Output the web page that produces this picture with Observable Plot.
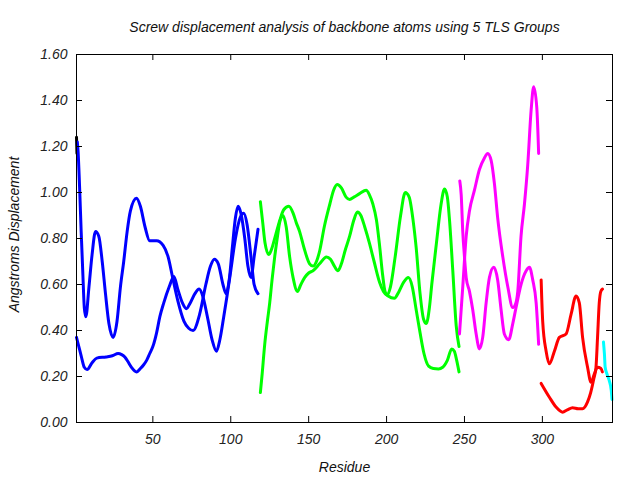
<!DOCTYPE html>
<html><head><meta charset="utf-8">
<script src="https://cdn.jsdelivr.net/npm/d3@7"></script>
<script src="https://cdn.jsdelivr.net/npm/@observablehq/plot@0.6"></script>
<style>body{margin:0;background:#fff;}</style>
</head><body><div id="chart"></div>
<script>
const title = "Screw displacement analysis of backbone atoms using 5 TLS Groups";
const xLabel = "Residue";
const yLabel = "Angstroms Displacement";
const xTicks = [50, 100, 150, 200, 250, 300];
const yTicks = [0, 0.2, 0.4, 0.6, 0.8, 1.0, 1.2, 1.4, 1.6];

// group colours
const colors = {black: "#000000", blue: "#0000ff", green: "#00ff00", magenta: "#ff00ff", red: "#ff0000", cyan: "#00ffff"};

// [residue, displacement]
const black1 = [[1,1.24],[1.3,1.17]];
const blueA = [[1.5,1.22],[2,1.18],[3,1.02],[4,0.83],[5,0.66],[6,0.50],[7,0.46],[9,0.59],[11,0.73],[13.2,0.83],[15.3,0.81],[17.5,0.70],[19.6,0.56],[21.8,0.43],[24.5,0.37],[27,0.44],[29.2,0.59],[31.3,0.70],[33.5,0.83],[35.6,0.92],[39.5,0.975],[42,0.94],[45,0.85],[48,0.79],[52.4,0.79],[56.6,0.77],[59.8,0.72],[62.7,0.63],[66,0.53],[70,0.44],[73,0.41],[75.8,0.40],[80,0.47],[84,0.60],[87,0.68],[89.5,0.71],[92,0.69],[95,0.60],[97,0.56],[99,0.62],[101,0.76],[103,0.89],[104.7,0.94],[106.5,0.91],[109,0.80],[111,0.68],[113,0.63],[115,0.72],[117.5,0.84]];
const blueB = [[1,0.37],[2.5,0.33],[4,0.29],[6,0.24],[7.8,0.23],[11,0.26],[14,0.28],[20,0.285],[24,0.29],[27.7,0.30],[30,0.295],[32,0.285],[34,0.265],[36.3,0.24],[39.5,0.22],[42,0.235],[44,0.25],[46,0.27],[48,0.30],[50,0.33],[52.4,0.39],[54.5,0.46],[57,0.52],[60.5,0.59],[63.5,0.635],[66,0.58],[69,0.52],[71.5,0.495],[74,0.52],[77,0.56],[79.7,0.58],[82,0.55],[85,0.46],[88,0.36],[90.8,0.31],[93,0.36],[95.5,0.46],[97.6,0.55],[100,0.66],[103,0.80],[106,0.89],[108.3,0.91],[110.5,0.86],[113,0.72],[115,0.60],[117.5,0.56]];
const greenA = [[119,0.96],[120.5,0.87],[122,0.78],[124.4,0.73],[126.5,0.76],[129,0.82],[131.5,0.88],[134,0.925],[137.3,0.94],[140,0.91],[142,0.87],[144.2,0.83],[147,0.76],[150.6,0.69],[152.8,0.68],[155,0.70],[157.2,0.75],[160,0.85],[163.6,0.95],[166,1.01],[168.3,1.035],[171,1.02],[174,0.98],[176.3,0.97],[179,0.98],[182.7,0.995],[186.9,1.01],[189,0.99],[191.2,0.95],[193.5,0.88],[195.5,0.77],[197.5,0.64],[199,0.57],[200.5,0.555],[202.5,0.59],[205.5,0.72],[209,0.90],[212,1.00],[214.5,0.98],[217,0.88],[219,0.76],[221.5,0.56],[223.7,0.45],[225.5,0.43],[227.5,0.50],[229,0.60],[232,0.78],[235,0.95],[237.2,1.015],[239,0.98],[240.4,0.88],[242.5,0.66],[244.7,0.42],[246.5,0.33]];
const greenB = [[119,0.13],[120,0.20],[121.8,0.34],[123.5,0.44],[125,0.52],[126.5,0.62],[128.2,0.72],[130,0.81],[131.4,0.87],[133.5,0.90],[135.6,0.85],[137.8,0.72],[140,0.63],[142.8,0.57],[145,0.60],[147.4,0.63],[150,0.65],[152.8,0.66],[157,0.69],[161.4,0.72],[164,0.71],[166.5,0.68],[168.8,0.66],[171,0.69],[173.5,0.75],[176.3,0.81],[179,0.88],[181.3,0.915],[183.5,0.90],[186,0.85],[189,0.78],[192,0.70],[195.5,0.61],[198,0.57],[201,0.55],[205,0.54],[208,0.57],[211,0.61],[214,0.63],[216.5,0.59],[219,0.49],[221.5,0.39],[224,0.30],[227,0.245],[230,0.235],[233.3,0.233],[236,0.24],[239,0.27],[241.8,0.32],[243.5,0.31],[245,0.27],[246.5,0.22]];
const magentaA = [[247,1.05],[247.9,0.99],[248.9,0.83],[250,0.72],[251.1,0.63],[253.2,0.57],[255.3,0.49],[257.5,0.385],[259.6,0.32],[261.7,0.37],[263.9,0.52],[266,0.63],[268.8,0.675],[271.3,0.62],[273.5,0.49],[275.6,0.385],[278.4,0.36],[281,0.43],[283.1,0.50],[286.3,0.60],[289.6,0.66],[291.7,0.675],[293.8,0.62],[296,0.52],[297.6,0.34]];
const magentaB = [[246.8,0.385],[248.9,0.59],[251.1,0.81],[253.2,0.92],[256.4,1.01],[259.6,1.10],[262.8,1.15],[264.9,1.17],[267.1,1.14],[269.2,1.04],[271.3,0.89],[274.6,0.72],[277.8,0.59],[281,0.50],[283,0.52],[284.2,0.57],[286.3,0.81],[288.5,0.95],[290.6,1.12],[292.8,1.36],[294.4,1.46],[296.4,1.37],[297.6,1.17]];
const redA = [[299.2,0.62],[300.2,0.44],[302.4,0.31],[304.5,0.255],[307.7,0.31],[310.9,0.37],[315.2,0.385],[318.4,0.47],[321.6,0.55],[323.7,0.52],[325.8,0.37],[329,0.24],[331.2,0.175],[333.3,0.21],[335.4,0.24],[337.6,0.235],[338.5,0.22]];
const redB = [[299.2,0.17],[304.5,0.11],[308.8,0.067],[313,0.045],[316,0.055],[319.4,0.064],[323,0.06],[325.8,0.06],[329,0.09],[331,0.13],[333,0.19],[334.4,0.24],[335.4,0.37],[336.5,0.52],[337.5,0.57],[338.6,0.58]];
const cyan1 = [[339.2,0.35],[339.8,0.30],[340.3,0.24],[341.5,0.21],[343,0.18],[344.2,0.14],[344.7,0.10]];

const series = [
  [black1, colors.black], [blueA, colors.blue], [blueB, colors.blue],
  [greenA, colors.green], [greenB, colors.green],
  [magentaA, colors.magenta], [magentaB, colors.magenta],
  [redA, colors.red], [redB, colors.red], [cyan1, colors.cyan]
];

const W = 640, H = 480, mL = 76, mR = 28, mT = 54, mB = 58;
const pw = W - mL - mR, ph = H - mT - mB, tk = 6;

const chart = Plot.plot({
  width: W, height: H,
  marginLeft: mL, marginRight: mR, marginTop: mT, marginBottom: mB,
  style: "font-family: 'Liberation Sans', sans-serif; font-size: 14px; font-style: italic; background: white; color: black;",
  x: {domain: [1, 345]},
  y: {domain: [0, 1.6]},
  marks: [
    ...series.map(([d, c]) => Plot.line(d, {x: d => d[0], y: d => d[1], stroke: c, strokeWidth: 3, curve: "monotone-x"})),
    Plot.gridX(xTicks, {stroke: "black", strokeOpacity: 1, insetTop: ph - tk}),
    Plot.gridX(xTicks, {stroke: "black", strokeOpacity: 1, insetBottom: ph - tk}),
    Plot.gridY(yTicks, {stroke: "black", strokeOpacity: 1, insetRight: pw - tk}),
    Plot.gridY(yTicks, {stroke: "black", strokeOpacity: 1, insetLeft: pw - tk}),
    Plot.frame({stroke: "black"}),
    Plot.axisX({ticks: xTicks, tickSize: 0, tickPadding: 12, label: null, fill: "#222"}),
    Plot.axisY({ticks: yTicks, tickSize: 0, tickPadding: 9, tickFormat: d3.format(".2f"), label: null, fill: "#222"}),
    Plot.text([title], {frameAnchor: "top", dy: -27, lineAnchor: "middle", textAnchor: "middle", fill: "#111"}),
    Plot.text([xLabel], {frameAnchor: "bottom", dy: 45, lineAnchor: "middle", textAnchor: "middle", fill: "#111"}),
    Plot.text([yLabel], {frameAnchor: "left", rotate: -90, dx: -62, dy: -4, lineAnchor: "middle", textAnchor: "middle", fill: "#111"})
  ]
});
document.getElementById("chart").appendChild(chart);
</script>
</body></html>
